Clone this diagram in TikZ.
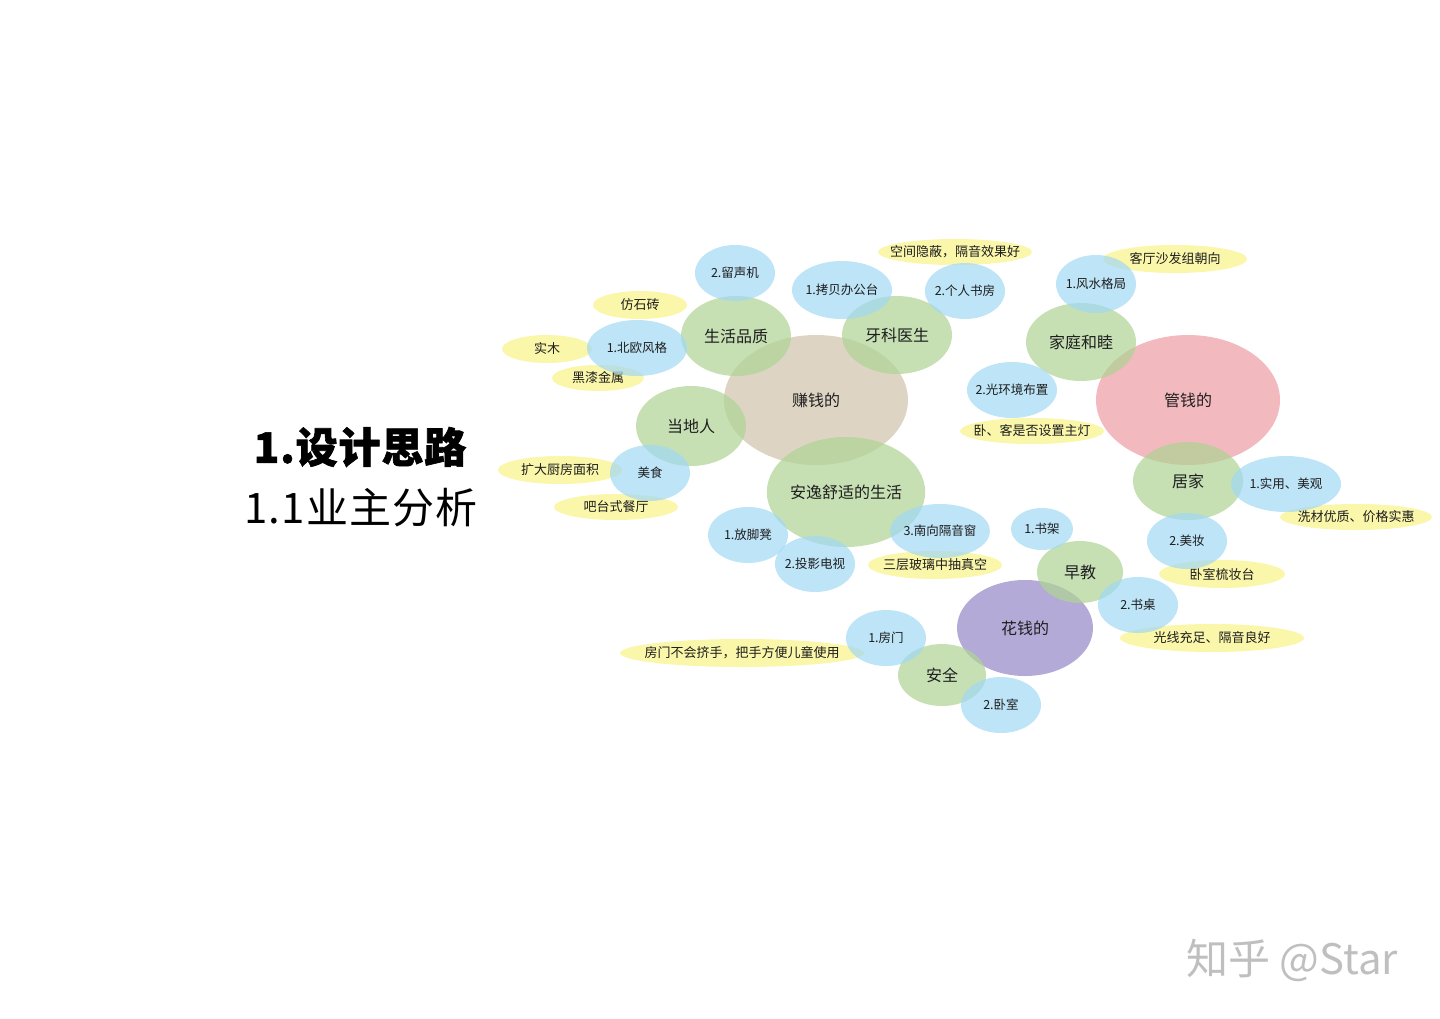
\documentclass[tikz,border=0pt]{standalone}
\usepackage{fontspec}
\setmainfont{Noto Sans CJK SC}
\usepackage{tikz}
\usetikzlibrary{shapes.geometric}
\definecolor{tanc}{RGB}{208,194,171}
\definecolor{pinkc}{RGB}{236,156,162}
\definecolor{purplec}{RGB}{148,134,198}
\definecolor{greenc}{RGB}{174,211,148}
\definecolor{bluec}{RGB}{161,216,244}
\definecolor{yellowc}{RGB}{248,242,134}
\definecolor{inkc}{RGB}{30,30,30}
% text that does not stretch its bubble
\newcommand{\fitin}[1]{\makebox[0pt]{#1}}

\begin{document}
\begin{tikzpicture}[x=1pt, y=-1pt,
                    bub/.style={ellipse, inner sep=0pt, fill opacity=.7, text opacity=1, text=inkc},
                    hub/.style={bub, font=\fontsize{16}{16}\selectfont},
                    topic/.style={bub, fill=greenc, font=\fontsize{16}{16}\selectfont},
                    item/.style={bub, fill=bluec, font=\fontsize{12.5}{12.5}\selectfont},
                    remark/.style={bub, fill=yellowc, font=\fontsize{13}{13}\selectfont}]
\useasboundingbox (0,0) rectangle (1440,1018);
% title
\node (title) at (360,447) {\fontsize{42}{42}\selectfont\bfseries\addfontfeatures{FakeBold=1.5,LetterSpace=2}1.设计思路};
\node (subtitle) at (361,508) {\fontsize{42}{42}\selectfont\addfontfeatures{LetterSpace=3}1.1业主分析};
% yellow notes
\node (hide) [remark, minimum width=154, minimum height=26] at (955,252) {\fitin{空间隐蔽，隔音效果好}};
\node (sofa) [remark, minimum width=144, minimum height=28] at (1175,259) {\fitin{客厅沙发组朝向}};
\node (stone) [remark, minimum width=94, minimum height=28] at (640,305) {\fitin{仿石砖}};
\node (wood) [remark, minimum width=90, minimum height=28] at (547,349) {\fitin{实木}};
\node (metal) [remark, minimum width=92, minimum height=26] at (598,378) {\fitin{黑漆金属}};
\node (lamp) [remark, minimum width=144, minimum height=26] at (1032,431) {\fitin{卧、客是否设置主灯}};
\node (kitchen) [remark, minimum width=124, minimum height=28] at (560,470) {\fitin{扩大厨房面积}};
\node (bar) [remark, minimum width=124, minimum height=26] at (616,507) {\fitin{吧台式餐厅}};
\node (quality) [remark, minimum width=152, minimum height=26] at (1356,517) {\fitin{洗材优质、价格实惠}};
\node (glass) [remark, minimum width=134, minimum height=28] at (935,565) {\fitin{三层玻璃中抽真空}};
\node (dresser) [remark, minimum width=126, minimum height=28] at (1222,574) {\fitin{卧室梳妆台}};
\node (light) [remark, minimum width=184, minimum height=28] at (1212,638) {\fitin{光线充足、隔音良好}};
\node (door) [remark, minimum width=244, minimum height=28] at (742,653) {\fitin{房门不会挤手，把手方便儿童使用}};
% big circles
\node (earn) [hub, fill=tanc, minimum width=184, minimum height=130] at (816,400) {赚钱的};
\node (manage) [hub, fill=pinkc, minimum width=184, minimum height=130] at (1188,400) {管钱的};
\node (spend) [hub, fill=purplec, minimum width=136, minimum height=96] at (1025,628) {花钱的};
% green topics
\node (life) [topic, minimum width=110, minimum height=80] at (736,336) {生活品质};
\node (dentist) [topic, minimum width=110, minimum height=78] at (897,335) {牙科医生};
\node (local) [topic, minimum width=110, minimum height=80] at (691,426) {当地人};
\node (comfort) [topic, minimum width=154, minimum height=110] at (846,492) {安逸舒适的生活};
\node (family) [topic, minimum width=110, minimum height=78] at (1081,342) {家庭和睦};
\node (home) [topic, minimum width=110, minimum height=78] at (1188,481) {居家};
\node (early) [topic, minimum width=86, minimum height=62] at (1080,572) {早教};
\node (safe) [topic, minimum width=88, minimum height=62] at (942,675) {安全};
% blue items
\node (phono) [item, minimum width=80, minimum height=56] at (735,273) {\fitin{2.留声机}};
\node (desk) [item, minimum width=100, minimum height=58] at (842,290) {\fitin{1.拷贝办公台}};
\node (study) [item, minimum width=80, minimum height=56] at (965,291) {\fitin{2.个人书房}};
\node (nordic) [item, minimum width=100, minimum height=56] at (637,348) {\fitin{1.北欧风格}};
\node (food) [item, minimum width=80, minimum height=56] at (650,473) {\fitin{美食}};
\node (fengshui) [item, minimum width=80, minimum height=58] at (1096,284) {\fitin{1.风水格局}};
\node (lighting) [item, minimum width=90, minimum height=56] at (1012,390) {\fitin{2.光环境布置}};
\node (useful) [item, minimum width=110, minimum height=56] at (1286,484) {\fitin{1.实用、美观}};
\node (makeup) [item, minimum width=80, minimum height=56] at (1187,541) {\fitin{2.美妆}};
\node (stool) [item, minimum width=80, minimum height=56] at (748,535) {\fitin{1.放脚凳}};
\node (tv) [item, minimum width=80, minimum height=56] at (815,564) {\fitin{2.投影电视}};
\node (window) [item, minimum width=100, minimum height=54] at (940,531) {\fitin{3.南向隔音窗}};
\node (shelf) [item, minimum width=62, minimum height=42] at (1042,529) {\fitin{1.书架}};
\node (table) [item, minimum width=80, minimum height=56] at (1138,605) {\fitin{2.书桌}};
\node (roomdoor) [item, minimum width=80, minimum height=56] at (886,638) {\fitin{1.房门}};
\node (bedroom) [item, minimum width=80, minimum height=56] at (1001,705) {\fitin{2.卧室}};
% watermark
\node (mark) [text=black!25] at (1292,960) {\fontsize{42}{42}\selectfont 知乎 @Star};
\end{tikzpicture}
\end{document}
